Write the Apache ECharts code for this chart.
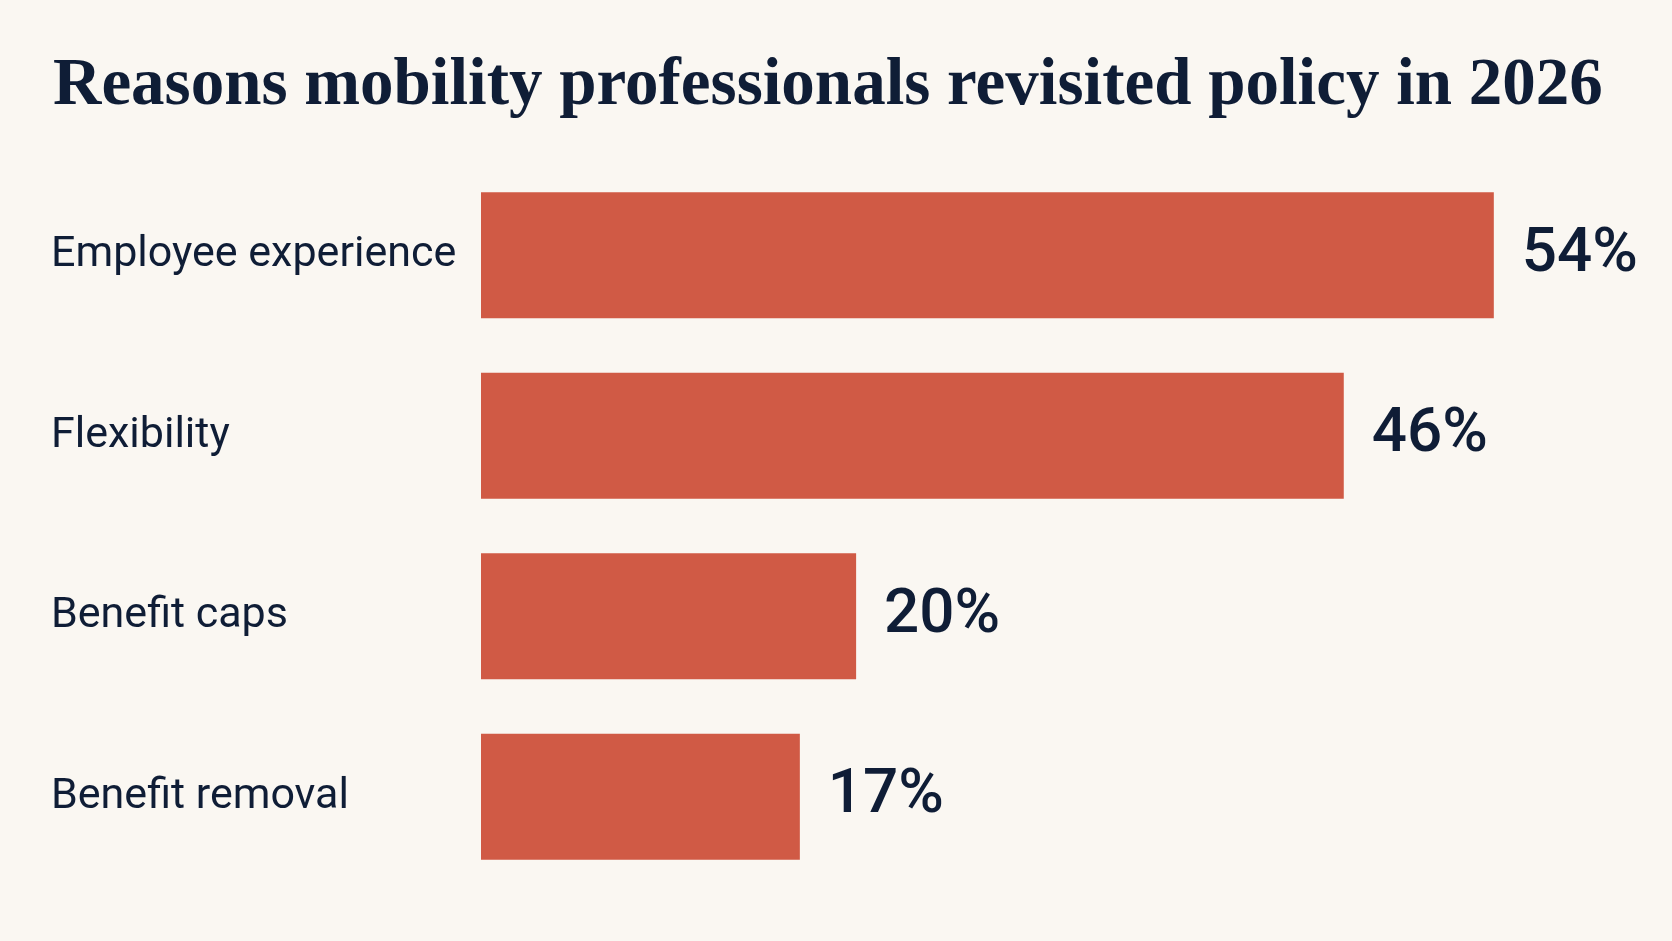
<!DOCTYPE html>
<html>
<head>
<meta charset="utf-8">
<script src="https://cdn.jsdelivr.net/npm/echarts@6/dist/echarts.min.js"></script>
<style>
  html, body { margin: 0; padding: 0; background: #faf7f2; }
  #chart { width: 1672px; height: 941px; }
</style>
</head>
<body>
<div id="chart"></div>
<script>
var chartTitle = 'Reasons mobility professionals revisited policy in 2026';
var reasons = ['Employee experience', 'Flexibility', 'Benefit caps', 'Benefit removal'];
var shares = [54, 46, 20, 17];

var ink = '#0f1d36';
var chart = echarts.init(document.getElementById('chart'));

var option = {
    backgroundColor: '#faf7f2',
    title: {
        text: chartTitle,
        left: 48,
        top: 48,
        textStyle: {
            fontFamily: '"Liberation Serif", serif',
            fontWeight: 'bold',
            fontSize: 67,
            color: ink
        }
    },
    grid: { left: 481, right: 0, top: 165, bottom: 54 },
    xAxis: {
        type: 'value',
        min: 0,
        max: 63.5,
        show: false
    },
    yAxis: {
        type: 'category',
        data: reasons,
        inverse: true,
        axisLine: { show: false },
        axisTick: { show: false },
        axisLabel: {
            align: 'left',
            margin: 430,
            fontFamily: 'Roboto, sans-serif',
            fontSize: 43,
            color: ink
        }
    },
    series: [{
        type: 'bar',
        data: shares,
        barWidth: 126,
        itemStyle: { color: '#d05a45' },
        label: {
            show: true,
            position: 'right',
            distance: 28,
            formatter: '{c}%',
            fontFamily: 'Roboto, sans-serif',
            fontWeight: 500,
            fontSize: 62,
            color: ink
        }
    }]
};
chart.setOption(option);
</script>
</body>
</html>
